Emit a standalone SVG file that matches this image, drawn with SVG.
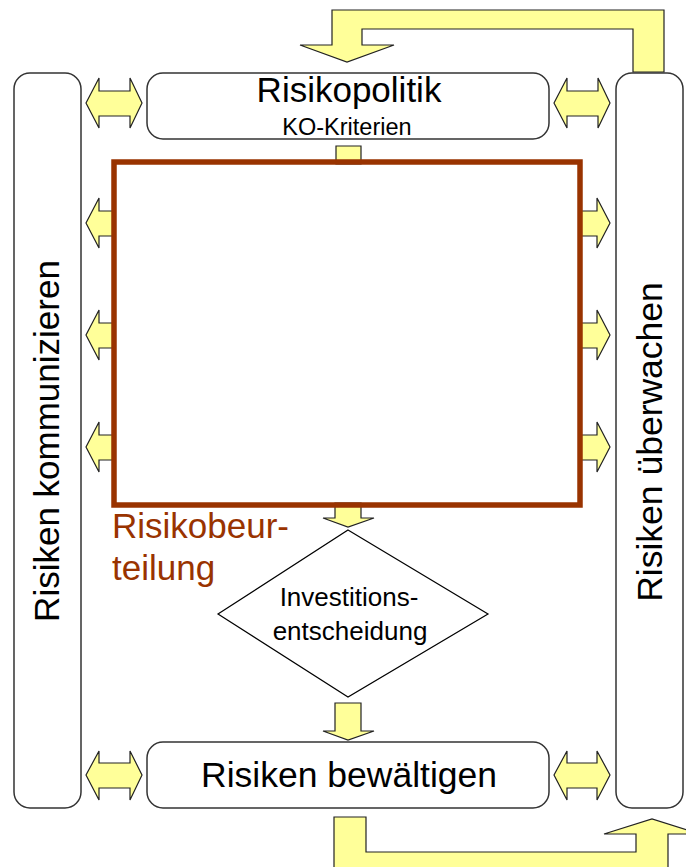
<svg xmlns="http://www.w3.org/2000/svg" width="686" height="867" viewBox="0 0 686 867">
<style>
.box{fill:#fff;stroke:#333;stroke-width:1.5}
.arr{fill:#FFFF99;stroke:#222;stroke-width:1.2;stroke-linejoin:miter}
.t{font-family:"Liberation Sans",Arial,sans-serif;fill:#000;text-anchor:middle}
.red{font-family:"Liberation Sans",Arial,sans-serif;fill:#993300;font-size:35px}
</style>
<rect width="686" height="867" fill="#fff"/>
<g id="connectors">
<path class="arr" d="M664,10 L664,72 L633,72 L633,29 L362,29 L362,45 L394,45 L347,62 L300,45 L332,45 L332,10 Z"/>
<path class="arr" d="M334,817 L366,817 L366,852 L636,852 L636,834 L604,834 L652,819 L700,834 L668,834 L668,880 L334,880 Z"/>
<path class="arr" d="M86,103 L99,78 L99,91 L130,91 L130,78 L142,103 L130,128 L130,116 L99,116 L99,128 Z"/>
<path class="arr" d="M554,103 L567,78 L567,91 L598,91 L598,78 L610,103 L598,128 L598,116 L567,116 L567,128 Z"/>
<path class="arr" d="M86,775 L99,751 L99,763 L130,763 L130,751 L142,775 L130,800 L130,788 L99,788 L99,800 Z"/>
<path class="arr" d="M554,775 L567,751 L567,763 L597,763 L597,751 L610,775 L597,800 L597,788 L567,788 L567,800 Z"/>
<path class="arr" d="M114,211 L99,211 L99,198 L86,223 L99,248 L99,236 L114,236 Z"/>
<path class="arr" d="M114,323 L99,323 L99,310 L86,335 L99,360 L99,348 L114,348 Z"/>
<path class="arr" d="M114,435 L99,435 L99,422 L86,447 L99,472 L99,460 L114,460 Z"/>
<path class="arr" d="M580,211 L597,211 L597,198 L610,223 L597,248 L597,236 L580,236 Z"/>
<path class="arr" d="M580,323 L597,323 L597,310 L610,335 L597,360 L597,348 L580,348 Z"/>
<path class="arr" d="M580,435 L597,435 L597,422 L610,447 L597,472 L597,460 L580,460 Z"/>
<path class="arr" d="M336,146 L361,146 L361,164 L336,164 Z"/>
<path class="arr" d="M335,503 L361,503 L361,518 L374,518 L348,527 L323,518 L335,518 Z"/>
<path class="arr" d="M335,703 L361,703 L361,731 L374,731 L348,740 L323,731 L335,731 Z"/>
</g>
<g id="risiken-kommunizieren">
<rect class="box" x="14" y="73" width="67" height="735" rx="16"/>
<text class="t" font-size="35" transform="translate(59,441) rotate(-90)">Risiken kommunizieren</text>
</g>
<g id="risiken-ueberwachen">
<rect class="box" x="616" y="73" width="67" height="735" rx="16"/>
<text class="t" font-size="35.5" transform="translate(662,442) rotate(-90)">Risiken überwachen</text>
</g>
<g id="risikopolitik">
<rect class="box" x="147" y="73" width="402" height="66" rx="16"/>
<text class="t" x="349" y="102" font-size="35">Risikopolitik</text>
<text class="t" x="347" y="135" font-size="23.5">KO-Kriterien</text>
</g>
<g id="risikobeurteilung">
<rect x="114" y="162" width="466" height="343" fill="none" stroke="#993300" stroke-width="5.5"/>
<text class="red" x="112" y="538">Risikobeur-</text>
<text class="red" x="112" y="580">teilung</text>
</g>
<g id="investitionsentscheidung">
<path d="M348,530 L488,614 L348,697 L218,614 Z" fill="#fff" stroke="#000" stroke-width="1.2"/>
<text class="t" x="349" y="606" font-size="26">Investitions-</text>
<text class="t" x="350" y="640" font-size="26">entscheidung</text>
</g>
<g id="risiken-bewaeltigen">
<rect class="box" x="147" y="742" width="402" height="66" rx="16"/>
<text class="t" x="349" y="787" font-size="35.5">Risiken bewältigen</text>
</g>
</svg>
